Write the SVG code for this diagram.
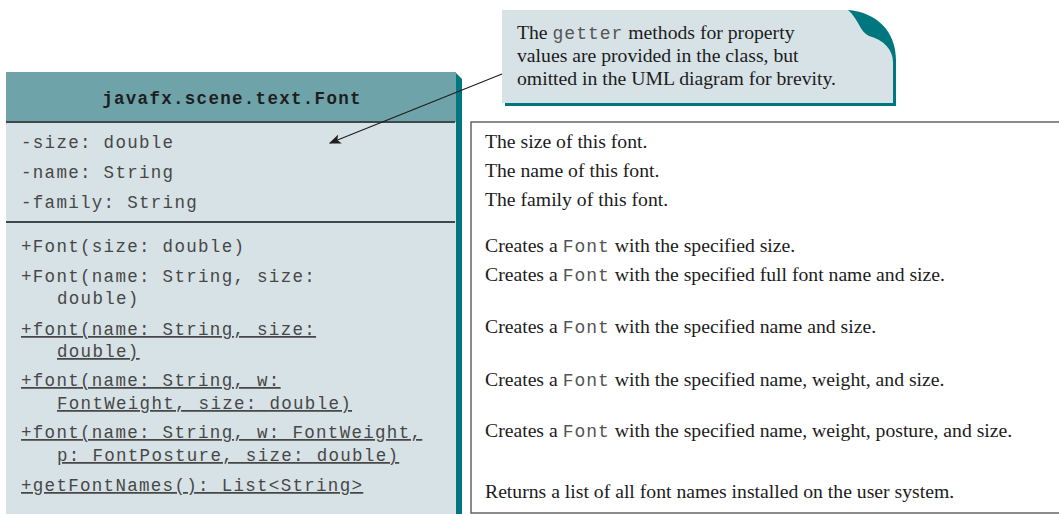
<svg xmlns="http://www.w3.org/2000/svg" width="1059" height="514" viewBox="0 0 1059 514">
<defs>
<style>
.mono{font-family:"Liberation Mono","Courier New",monospace;font-size:17.5px;letter-spacing:1.3px;fill:#474747;}
.hdr{font-family:"Liberation Mono","Courier New",monospace;font-size:17.5px;letter-spacing:1.3px;font-weight:bold;fill:#1e1e1e;}
.ul{text-decoration:underline;}
.ser{font-family:"Liberation Serif","Times New Roman",serif;font-size:19.7px;fill:#1c1c1c;}
.im{font-family:"Liberation Mono","Courier New",monospace;font-size:18px;letter-spacing:1px;fill:#555;}
.div{stroke:#3e4749;stroke-width:2;}
</style>
<marker id="arr" viewBox="0 0 10 10" refX="9" refY="5" markerWidth="12" markerHeight="12" markerUnits="userSpaceOnUse" orient="auto">
<path d="M0,1 L10,5 L0,9 L2.5,5 Z" fill="#1e1e1e"/>
</marker>
</defs>
<rect width="1059" height="514" fill="#ffffff"/>

<g id="class-font">
<polygon points="455,72 462,79 462,514 455,514" fill="#00777f"/>
<rect x="6" y="72" width="450" height="50" fill="#6fa3aa"/>
<rect x="6" y="122" width="450" height="392" fill="#d7e2e6"/>
<line x1="6" y1="122" x2="455" y2="122" class="div"/>
<line x1="6" y1="222" x2="455" y2="222" class="div"/>
<text x="232" y="104" text-anchor="middle" class="hdr">javafx.scene.text.Font</text>
<text x="21" y="148" class="mono">-size: double</text>
<text x="21" y="178" class="mono">-name: String</text>
<text x="21" y="208" class="mono">-family: String</text>
<text x="21" y="252" class="mono">+Font(size: double)</text>
<text x="21" y="282" class="mono">+Font(name: String, size:</text>
<text x="57" y="304" class="mono">double)</text>
<text x="21" y="335" class="mono ul">+font(name: String, size:</text>
<text x="57" y="357" class="mono ul">double)</text>
<text x="21" y="386" class="mono ul">+font(name: String, w:</text>
<text x="57" y="409" class="mono ul">FontWeight, size: double)</text>
<text x="21" y="438" class="mono ul">+font(name: String, w: FontWeight,</text>
<text x="57" y="461" class="mono ul">p: FontPosture, size: double)</text>
<text x="21" y="491" class="mono ul">+getFontNames(): List&lt;String&gt;</text>
</g>

<g id="descriptions">
<rect x="471" y="122" width="600" height="391" fill="#ffffff" stroke="#666" stroke-width="1.5"/>
<text x="485" y="148" class="ser">The size of this font.</text>
<text x="485" y="177" class="ser">The name of this font.</text>
<text x="485" y="206" class="ser">The family of this font.</text>
<text x="485" y="252" class="ser">Creates a <tspan class="im">Font</tspan> with the specified size.</text>
<text x="485" y="281" class="ser">Creates a <tspan class="im">Font</tspan> with the specified full font name and size.</text>
<text x="485" y="333" class="ser">Creates a <tspan class="im">Font</tspan> with the specified name and size.</text>
<text x="485" y="386" class="ser">Creates a <tspan class="im">Font</tspan> with the specified name, weight, and size.</text>
<text x="485" y="437" class="ser">Creates a <tspan class="im">Font</tspan> with the specified name, weight, posture, and size.</text>
<text x="485" y="498" class="ser">Returns a list of all font names installed on the user system.</text>
</g>

<g id="note">
<path d="M505,106 V103 H502 V10 H848 C875,12 896,30 896,60 V106 Z" fill="#00777f"/>
<path d="M502,10 H848 C858,18 860,32 869,36 C884,40 893,50 893,62 V103 H502 Z" fill="#d7e2e6"/>
<text x="517" y="39" class="ser">The <tspan class="im">getter</tspan> methods for property</text>
<text x="517" y="62" class="ser">values are provided in the class, but</text>
<text x="517" y="85" class="ser">omitted in the UML diagram for brevity.</text>
</g>

<g id="connectors">
<line x1="502" y1="74" x2="330" y2="143" stroke="#1e1e1e" stroke-width="1.2" marker-end="url(#arr)"/>
</g>
</svg>
